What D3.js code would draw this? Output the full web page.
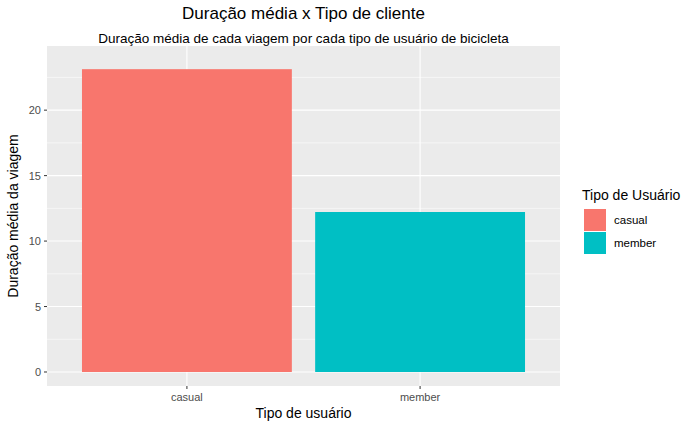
<!DOCTYPE html>
<html><head><meta charset="utf-8">
<script src="https://cdn.jsdelivr.net/npm/d3@7"></script>
<style>body{margin:0;background:#fff}text{font-family:"Liberation Sans",Arial,sans-serif}</style>
</head><body><svg id="c" width="700" height="432"></svg>
<script>
const categories=["casual","member"];
const values=[23.13,12.22];
const colors=["#F8766D","#00BFC4"];
const yTicks=[0,5,10,15,20];
const svg=d3.select("#c");
const L=47,R=560,T=46,B=386;
const x=d3.scaleLinear().domain([0.4,2.6]).range([L,R]);
const y=d3.scaleLinear().domain([-1.07,24.9]).range([B,T]);
svg.append("rect").attr("x",L).attr("y",T).attr("width",R-L).attr("height",B-T).attr("fill","#EBEBEB");
const minor=[2.5,7.5,12.5,17.5,22.5];
minor.forEach(v=>svg.append("line").attr("x1",L).attr("x2",R).attr("y1",y(v)).attr("y2",y(v)).attr("stroke","#fff").attr("stroke-width",0.55));
yTicks.forEach(v=>svg.append("line").attr("x1",L).attr("x2",R).attr("y1",y(v)).attr("y2",y(v)).attr("stroke","#fff").attr("stroke-width",1.1));
categories.forEach((c,i)=>svg.append("line").attr("x1",x(i+1)).attr("x2",x(i+1)).attr("y1",T).attr("y2",B).attr("stroke","#fff").attr("stroke-width",1.1));
categories.forEach((c,i)=>svg.append("rect").attr("x",x(i+1-0.45)).attr("width",x(i+1.45)-x(i+0.55)).attr("y",y(values[i])).attr("height",y(0)-y(values[i])).attr("fill",colors[i]));
yTicks.forEach(v=>{svg.append("line").attr("x1",L-3).attr("x2",L).attr("y1",y(v)).attr("y2",y(v)).attr("stroke","#333");
svg.append("text").attr("x",L-6).attr("y",y(v)+4).attr("text-anchor","end").attr("font-size",11).attr("fill","#4D4D4D").text(v);});
categories.forEach((c,i)=>{svg.append("line").attr("x1",x(i+1)).attr("x2",x(i+1)).attr("y1",B).attr("y2",B+3).attr("stroke","#333");
svg.append("text").attr("x",x(i+1)).attr("y",B+15).attr("text-anchor","middle").attr("font-size",11).attr("fill","#4D4D4D").text(c);});
svg.append("text").attr("x",(L+R)/2).attr("y",19).attr("text-anchor","middle").attr("font-size",17).text("Duração média x Tipo de cliente");
svg.append("text").attr("x",(L+R)/2).attr("y",43).attr("text-anchor","middle").attr("font-size",13.5).text("Duração média de cada viagem por cada tipo de usuário de bicicleta");
svg.append("text").attr("x",(L+R)/2).attr("y",418).attr("text-anchor","middle").attr("font-size",14).text("Tipo de usuário");
svg.append("text").attr("transform",`translate(18,${(T+B)/2}) rotate(-90)`).attr("text-anchor","middle").attr("font-size",14).text("Duração média da viagem");
svg.append("text").attr("x",582).attr("y",200).attr("font-size",14).text("Tipo de Usuário");
categories.forEach((c,i)=>{svg.append("rect").attr("x",584).attr("y",209+i*23).attr("width",22).attr("height",22).attr("fill",colors[i]);
svg.append("text").attr("x",614).attr("y",224+i*23).attr("font-size",11.5).text(c);});
</script></body></html>
